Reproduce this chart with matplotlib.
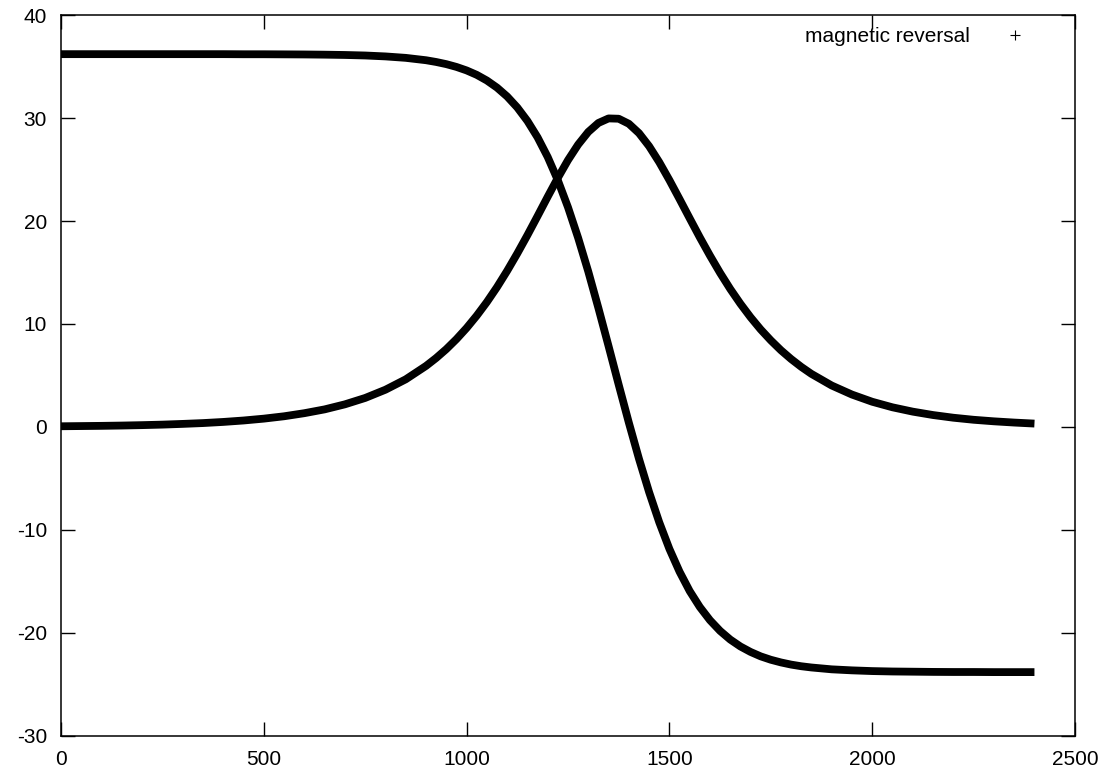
import matplotlib
matplotlib.use("Agg")
import matplotlib.pyplot as plt
from matplotlib.lines import Line2D

plt.rcParams['font.family'] = ['Liberation Sans', 'DejaVu Sans']
plt.rcParams['axes.unicode_minus'] = False

# values (step 50, step 25 through the turn)
steps = [0, 50, 100, 150, 200, 250, 300, 350, 400, 450, 500, 550, 600, 650,
         700, 750, 800, 850, 900, 925, 950, 975, 1000, 1025, 1050, 1075,
         1100, 1125, 1150, 1175, 1200, 1225, 1250, 1275, 1300, 1325, 1350,
         1375, 1400, 1425, 1450, 1475, 1500, 1525, 1550, 1575, 1600, 1625,
         1650, 1675, 1700, 1725, 1750, 1775, 1800, 1825, 1850, 1900, 1950,
         2000, 2050, 2100, 2150, 2200, 2250, 2300, 2350, 2400]

m_long = [36.20, 36.20, 36.20, 36.20, 36.20, 36.20, 36.20, 36.20, 36.20, 36.19,
          36.19, 36.18, 36.17, 36.15, 36.12, 36.07, 35.98, 35.84, 35.61, 35.44,
          35.23, 34.96, 34.62, 34.19, 33.64, 32.95, 32.09, 31.02, 29.71, 28.12,
          26.21, 23.95, 21.33, 18.36, 15.09, 11.54, 7.85, 4.10, 0.42, -3.09,
          -6.33, -9.26, -11.84, -14.05, -15.93, -17.48, -18.76, -19.80, -20.64,
          -21.31, -21.84, -22.27, -22.60, -22.86, -23.07, -23.23, -23.35, -23.53,
          -23.63, -23.70, -23.74, -23.76, -23.78, -23.79, -23.79, -23.80, -23.80,
          -23.80]

m_perp = [0.07, 0.09, 0.11, 0.14, 0.18, 0.23, 0.30, 0.38, 0.49, 0.63,
          0.81, 1.04, 1.34, 1.71, 2.20, 2.82, 3.62, 4.63, 5.93, 6.70,
          7.56, 8.53, 9.61, 10.81, 12.13, 13.58, 15.16, 16.85, 18.63, 20.48,
          22.36, 24.19, 25.91, 27.42, 28.65, 29.52, 29.96, 29.93, 29.44, 28.53,
          27.26, 25.71, 23.97, 22.13, 20.26, 18.41, 16.64, 14.96, 13.40,
          11.97, 10.66, 9.47, 8.41, 7.45, 6.60, 5.84, 5.16, 4.03,
          3.15, 2.45, 1.91, 1.49, 1.16, 0.90, 0.70, 0.55, 0.43,
          0.33]

fig = plt.figure(figsize=(11.07, 7.70), dpi=100)
ax = fig.add_axes([0.0551, 0.0442, 0.9160, 0.9363])

for series in (m_long, m_perp):
    ax.plot(steps, series, color='black', lw=5.6,
            solid_capstyle='butt', solid_joinstyle='round')

ax.set_xlim(0, 2500)
ax.set_ylim(-30, 40)
ax.set_xticks(range(0, 2501, 500))
ax.set_yticks(range(-30, 41, 10))
ax.tick_params(direction='in', length=10, width=1.0, labelsize=15, pad=10,
               top=True, right=True)
for s in ax.spines.values():
    s.set_linewidth(1.1)

handle = Line2D([], [], color='black', marker='+', linestyle='none',
                markersize=7, markeredgewidth=0.8)
ax.legend([handle], ['magnetic reversal'], loc='upper right',
          bbox_to_anchor=(0.97, 0.995), frameon=False, markerfirst=False,
          fontsize=15, handlelength=2.0, handletextpad=1.2, borderaxespad=0)

fig.savefig('out.png', dpi=100)
